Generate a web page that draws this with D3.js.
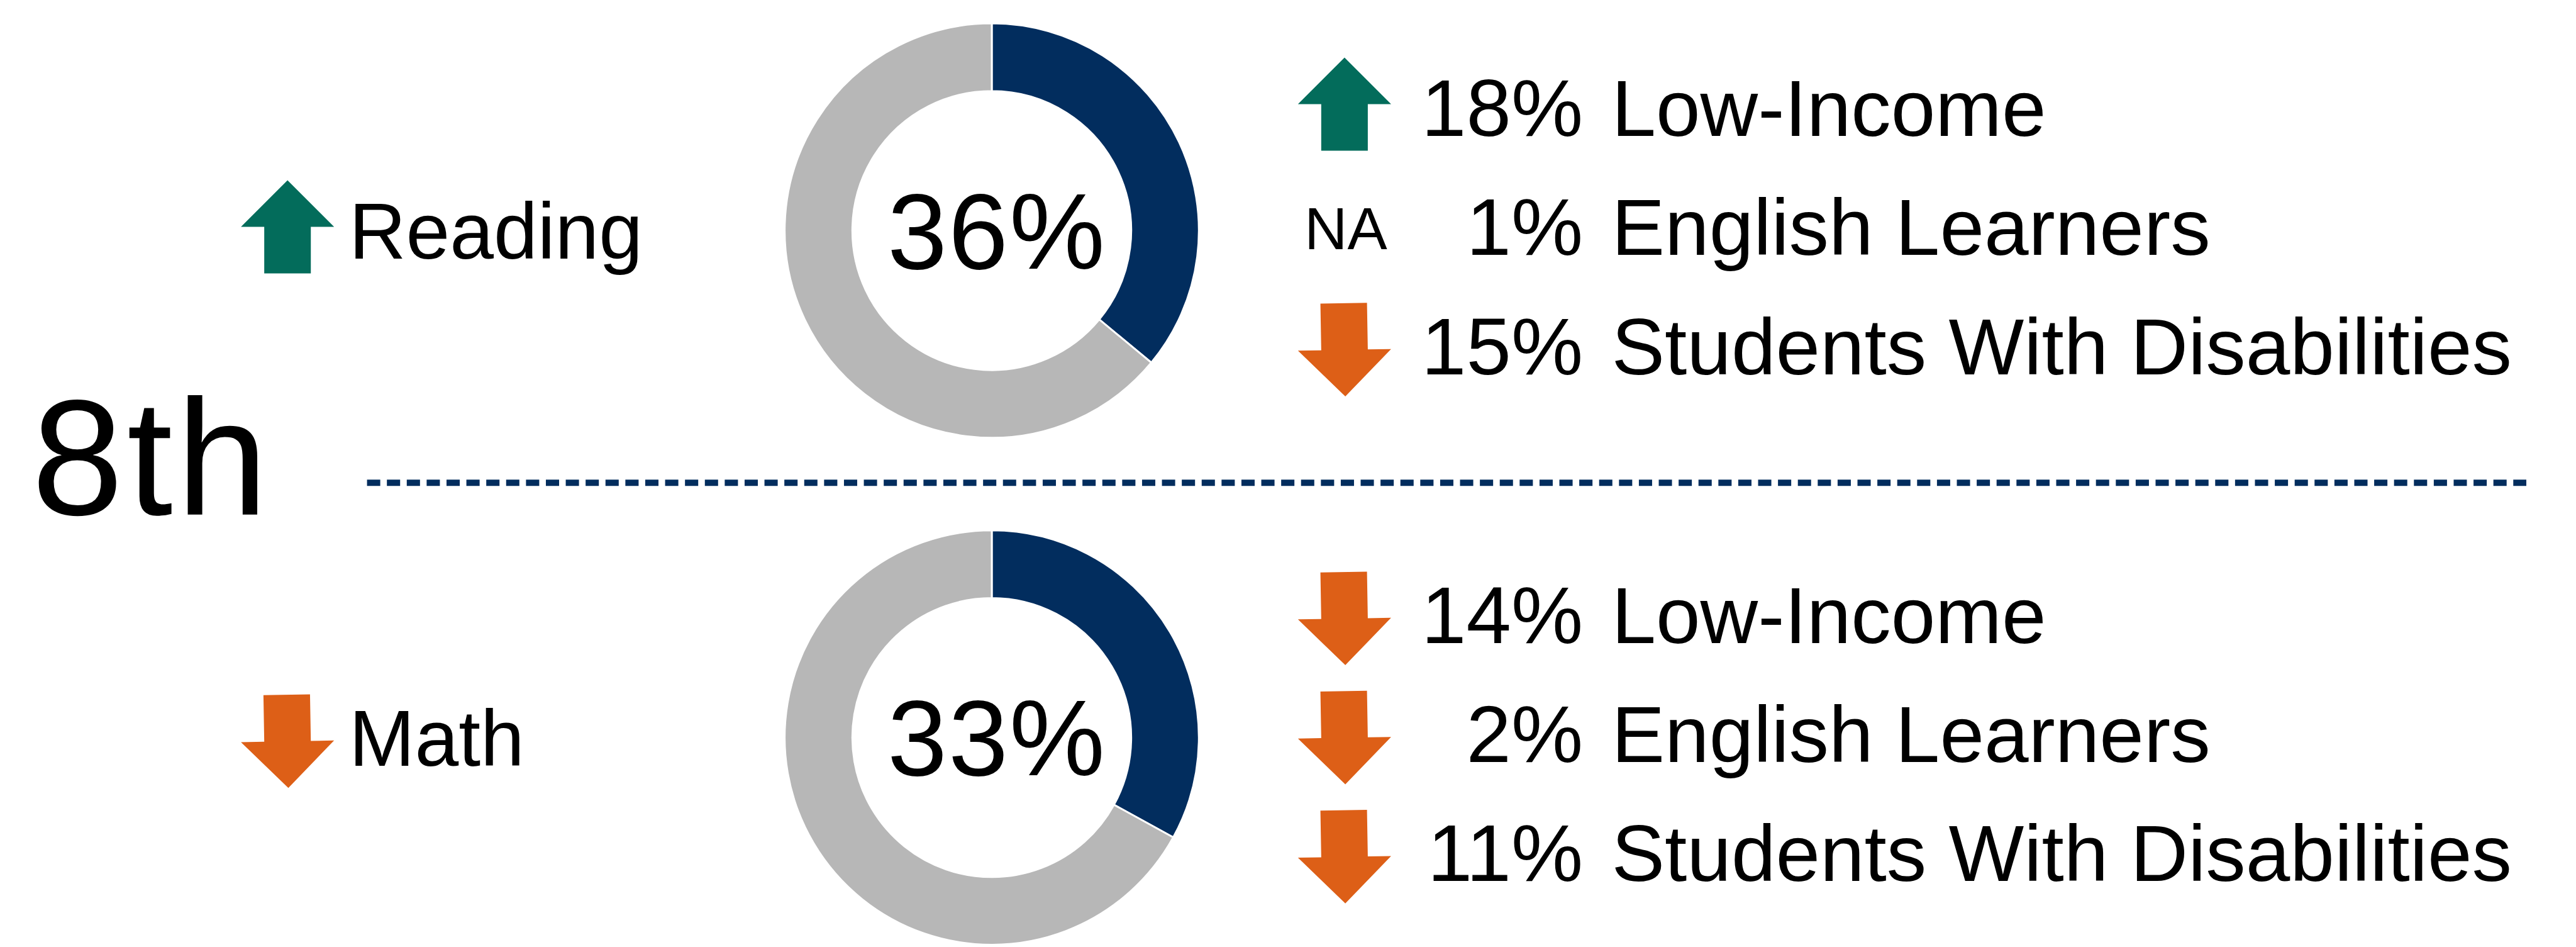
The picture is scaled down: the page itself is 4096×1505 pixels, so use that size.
<!DOCTYPE html>
<html>
<head>
<meta charset="utf-8">
<script src="https://cdn.jsdelivr.net/npm/d3@7"></script>
<style>
  html, body { margin: 0; padding: 0; background: #fff; overflow: hidden; }
  text { font-family: "Liberation Sans", Arial, Helvetica, sans-serif; fill: #000; }
</style>
</head>
<body>
<div id="chart"></div>
<script>
// data
var grade = "8th";
var subjects = ["Reading", "Math"];
var subjectTrend = ["up", "down"];
var proficient = [36, 33];
var groups = ["Low-Income", "English Learners", "Students With Disabilities"];
var groupValues = [[18, 1, 15], [14, 2, 11]];
var groupTrend = [["up", "na", "down"], ["down", "down", "down"]];

// colours
var navy = "#022d5e";
var grey = "#b7b7b7";
var green = "#036c5b";
var orange = "#dd5f17";

// layout, in reference pixels (viewBox does the 0.987 shrink)
var W = 4148, H = 1524;
var donutX = 1597;
var outerR = 333.5, innerR = 224.5;
var leftArrowX = 463, subjectX = 562;
var rightArrowX = 2165, pctX = 2549, labelX = 2595, naX = 2167;

var svg = d3.select("#chart")
            .append("svg")
            .attr("width", 4096)
            .attr("height", 1505)
            .attr("viewBox", [0, 0, W, H].join(" "));

// block centres and row baselines
var blockY = d3.scalePoint()
               .domain(subjects)
               .range([371, 1187]);
var rowY = d3.scalePoint()
             .domain(groups)
             .range([-152.5, 231]);

// arrow shape, 150 x 150, centred
var arrowLine = d3.line();
function arrowPath(dir){
  var s = dir === "up" ? -1 : 1;
  var pts = [[0, 75 * s], [75, 0], [37.5, 0], [37.5, -75 * s],
             [-37.5, -75 * s], [-37.5, 0], [-75, 0]];
  return arrowLine(pts) + "Z";
}
function drawArrow(g, dir, x, baseline){
  var dy = dir === "up" ? -51 : -39;
  g.append("path")
   .attr("d", arrowPath(dir))
   .attr("fill", dir === "up" ? green : orange)
   .attr("transform", "translate(" + x + "," + (baseline + dy) + ")" +
         (dir === "up" ? "" : " rotate(-1)"));
}

// grade label
svg.append("text")
   .attr("x", 51)
   .attr("y", 828)
   .style("font-size", "265px")
   .style("letter-spacing", "6px")
   .text(grade);

// dashed divider
svg.append("line")
   .attr("x1", 591)
   .attr("x2", 4068)
   .attr("y1", 777)
   .attr("y2", 777)
   .attr("stroke", navy)
   .attr("stroke-width", 10)
   .attr("stroke-dasharray", "21.3 10.7");

var pie = d3.pie().sort(null);
var arc = d3.arc().innerRadius(innerR).outerRadius(outerR);

subjects.forEach(function(subj, i){
  var cy = blockY(subj);
  var g = svg.append("g");

  // subject with trend arrow
  drawArrow(g, subjectTrend[i], leftArrowX, cy + 45);
  g.append("text")
   .attr("x", subjectX)
   .attr("y", cy + 45)
   .style("font-size", "127px")
   .text(subj);

  // donut
  var donut = g.append("g")
               .attr("transform", "translate(" + donutX + "," + cy + ")");
  donut.selectAll("path")
       .data(pie([proficient[i], 100 - proficient[i]]))
       .enter()
       .append("path")
       .attr("d", arc)
       .attr("fill", function(d, j){ return j === 0 ? navy : grey; })
       .attr("stroke", "#fff")
       .attr("stroke-width", 3);
  donut.append("text")
       .attr("x", 8)
       .attr("y", 61)
       .attr("text-anchor", "middle")
       .style("font-size", "173px")
       .style("letter-spacing", "2px")
       .text(proficient[i] + "%");

  // student groups
  groups.forEach(function(grp, k){
    var base = cy + rowY(grp);
    var trend = groupTrend[i][k];
    if (trend === "na") {
      g.append("text")
       .attr("x", naX)
       .attr("y", base - 9)
       .attr("text-anchor", "middle")
       .style("font-size", "96px")
       .text("NA");
    } else {
      drawArrow(g, trend, rightArrowX, base);
    }
    g.append("text")
     .attr("x", pctX)
     .attr("y", base)
     .attr("text-anchor", "end")
     .style("font-size", "130px")
     .text(groupValues[i][k] + "%");
    g.append("text")
     .attr("x", labelX)
     .attr("y", base)
     .style("font-size", "128.5px")
     .text(grp);
  });
});
</script>
</body>
</html>
